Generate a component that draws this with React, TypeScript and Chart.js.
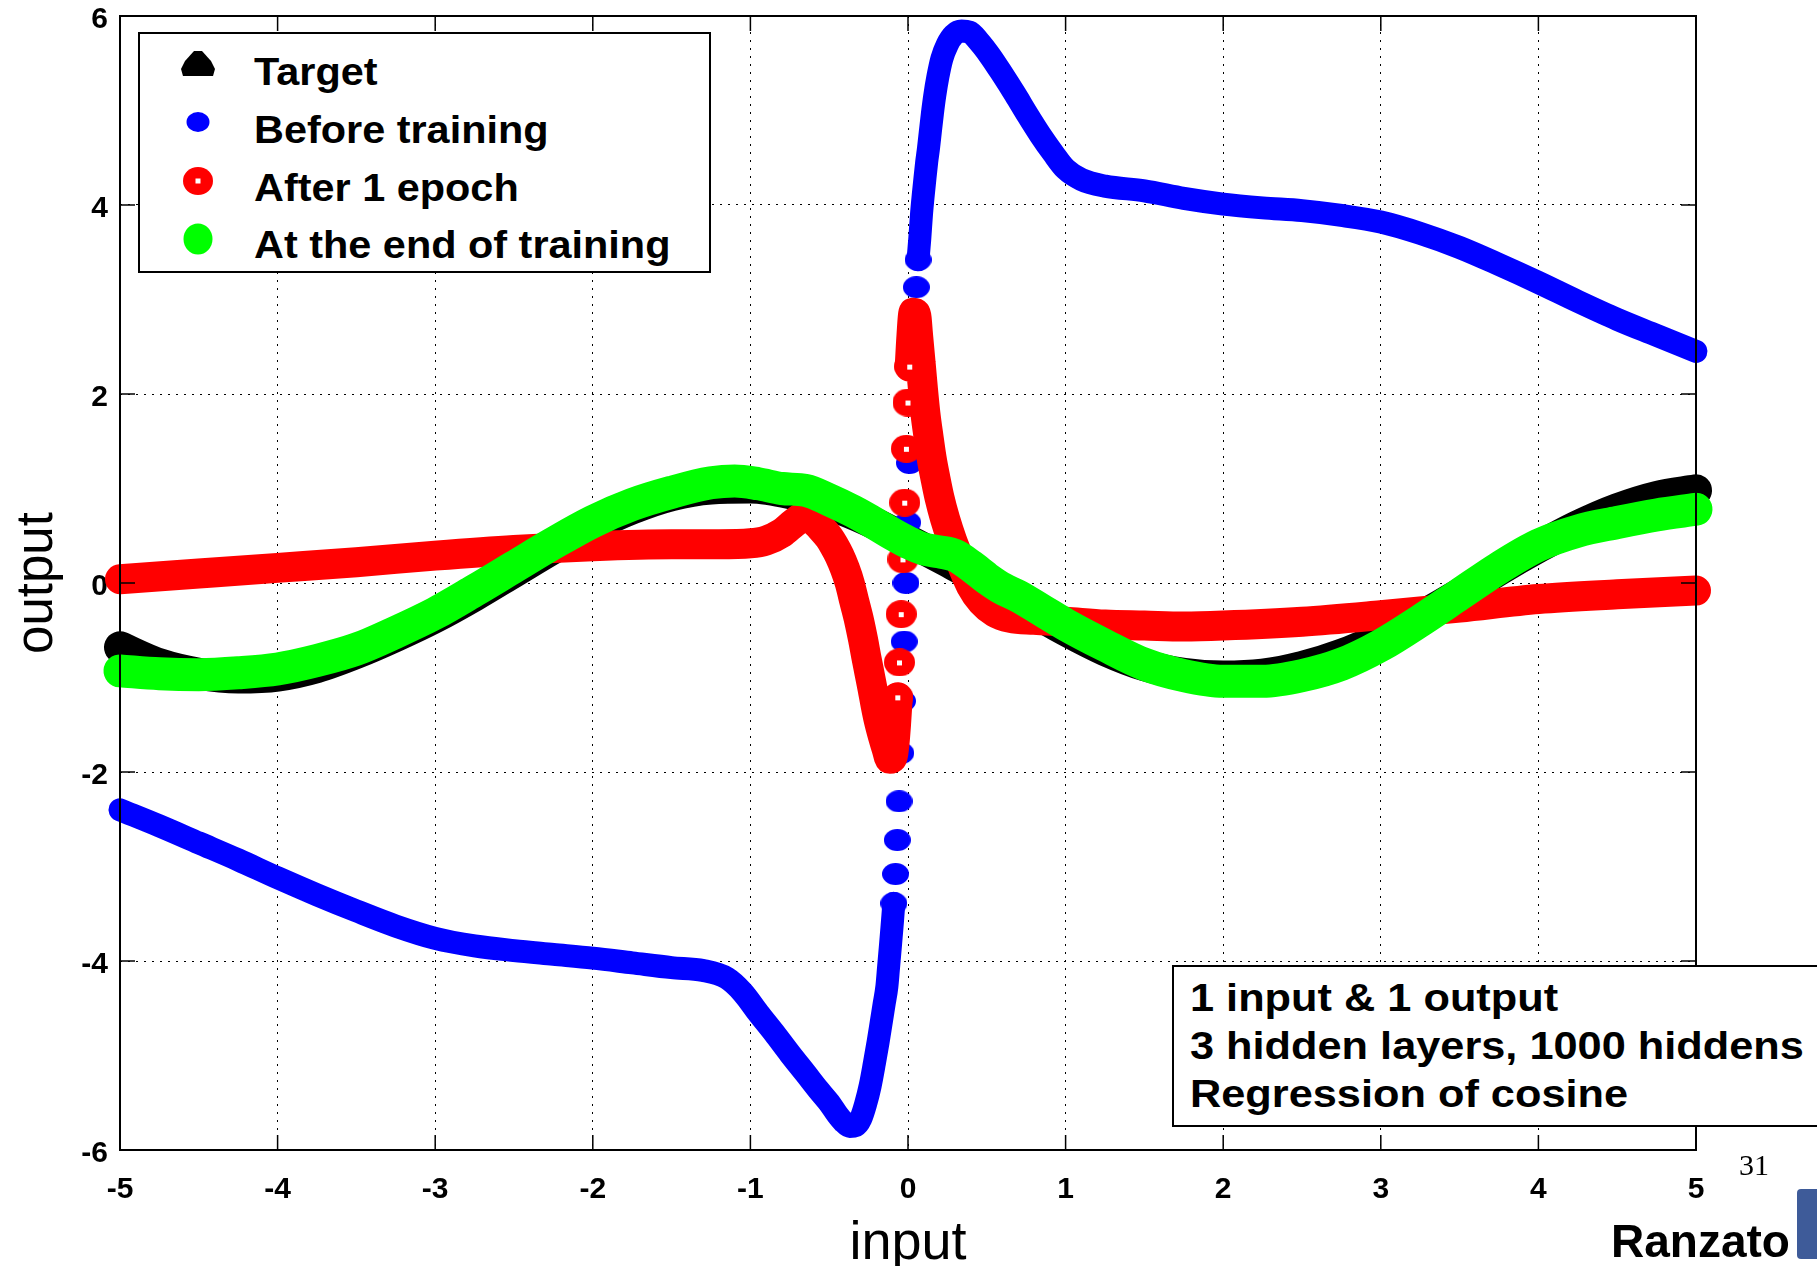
import React, { useEffect, useRef } from "react";
import { Chart, registerables } from "chart.js";

Chart.register(...registerables);

type Pt = [number, number];

const W = 1817;
const H = 1266;

const X_TICKS = [-5, -4, -3, -2, -1, 0, 1, 2, 3, 4, 5];
const Y_TICKS = [-6, -4, -2, 0, 2, 4, 6];

const SERIES_LABELS = ["Target", "Before training", "After 1 epoch", "At the end of training"];
const NOTE_LINES = ["1 input & 1 output", "3 hidden layers, 1000 hiddens", "Regression of cosine"];
const X_TITLE = "input";
const Y_TITLE = "output";
const CORNER_NAME = "Ranzato";
const PAGE_NUMBER = "31";

// Target (black)
const targetCurve: Pt[] = [
  [-5, -0.68], [-4.75, -0.86], [-4.5, -0.96], [-4.25, -1.0], [-4, -0.98], [-3.75, -0.89],
  [-3.5, -0.74], [-3.25, -0.56], [-3, -0.36], [-2.75, -0.13], [-2.5, 0.12], [-2.25, 0.37],
  [-2, 0.6], [-1.75, 0.79], [-1.5, 0.93], [-1.25, 1.0], [-1, 1.01], [-0.75, 0.95],
  [-0.5, 0.83], [-0.25, 0.66], [0, 0.45], [0.25, 0.23], [0.5, 0.0], [0.75, -0.26],
  [1, -0.5], [1.25, -0.71], [1.5, -0.87], [1.75, -0.96], [2, -0.99], [2.25, -0.97],
  [2.5, -0.89], [2.75, -0.76], [3, -0.58], [3.25, -0.36], [3.5, -0.12], [3.75, 0.14],
  [4, 0.38], [4.25, 0.6], [4.5, 0.78], [4.75, 0.91], [5, 0.98],
];

// Before training (blue)
const beforeTraining: Pt[] = [
  [-5, -2.4], [-4.75, -2.57], [-4.5, -2.75], [-4.25, -2.93], [-4, -3.12], [-3.75, -3.3],
  [-3.5, -3.47], [-3.25, -3.63], [-3, -3.76], [-2.75, -3.84], [-2.5, -3.89], [-2.25, -3.93],
  [-2, -3.97], [-1.75, -4.02], [-1.5, -4.07], [-1.3, -4.1], [-1.15, -4.18], [-1.05, -4.33],
  [-0.95, -4.55], [-0.85, -4.76], [-0.75, -4.98], [-0.65, -5.19], [-0.57, -5.36], [-0.5, -5.5],
  [-0.45, -5.62], [-0.41, -5.7], [-0.37, -5.75], [-0.33, -5.74], [-0.3, -5.67], [-0.27, -5.52],
  [-0.24, -5.32], [-0.213, -5.08], [-0.19, -4.86], [-0.17, -4.65], [-0.152, -4.46], [-0.134, -4.27],
  [-0.123, -4.06], [-0.112, -3.85], [-0.101, -3.63], [-0.09, -3.39], [-0.079, -3.08], [-0.068, -2.72],
  [-0.057, -2.31], [-0.046, -1.8], [-0.035, -1.25], [-0.024, -0.62], [-0.013, 0.0], [-0.002, 0.64],
  [0.009, 1.27], [0.02, 1.9], [0.031, 2.45], [0.042, 2.85], [0.053, 3.13], [0.064, 3.42],
  [0.075, 3.65], [0.086, 3.91], [0.097, 4.11], [0.108, 4.29], [0.119, 4.46], [0.13, 4.6],
  [0.142, 4.78], [0.155, 4.97], [0.17, 5.16], [0.19, 5.36], [0.215, 5.55], [0.25, 5.7],
  [0.29, 5.8], [0.34, 5.84], [0.39, 5.83], [0.45, 5.73], [0.52, 5.58], [0.6, 5.38],
  [0.68, 5.17], [0.76, 4.95], [0.84, 4.74], [0.92, 4.55], [1, 4.38], [1.1, 4.27],
  [1.25, 4.2], [1.5, 4.15], [1.75, 4.07], [2, 4.01], [2.25, 3.97], [2.5, 3.94],
  [2.75, 3.89], [3, 3.82], [3.25, 3.7], [3.5, 3.55], [3.75, 3.37], [4, 3.18],
  [4.25, 2.98], [4.5, 2.79], [4.75, 2.62], [5, 2.45],
];

// After 1 epoch (red)
const afterOneEpoch: Pt[] = [
  [-5, 0.04], [-4.5, 0.1], [-4, 0.16], [-3.5, 0.22], [-3, 0.29], [-2.5, 0.35],
  [-2, 0.39], [-1.5, 0.41], [-1.2, 0.41], [-1, 0.42], [-0.9, 0.45], [-0.8, 0.53],
  [-0.72, 0.64], [-0.66, 0.7], [-0.6, 0.66], [-0.55, 0.58], [-0.5, 0.48], [-0.47, 0.4],
  [-0.435, 0.29], [-0.4, 0.15], [-0.37, 0.0], [-0.34, -0.2], [-0.31, -0.4], [-0.285, -0.6],
  [-0.265, -0.78], [-0.245, -0.95], [-0.225, -1.12], [-0.205, -1.3], [-0.185, -1.46], [-0.16, -1.62],
  [-0.135, -1.76], [-0.115, -1.86], [-0.1, -1.85], [-0.087, -1.72], [-0.076, -1.5], [-0.065, -1.21],
  [-0.054, -0.84], [-0.043, -0.33], [-0.032, 0.25], [-0.021, 0.85], [-0.01, 1.42], [0.0, 1.91],
  [0.011, 2.29], [0.022, 2.62], [0.035, 2.86], [0.05, 2.85], [0.065, 2.6], [0.08, 2.33],
  [0.095, 2.05], [0.11, 1.8], [0.13, 1.55], [0.15, 1.32], [0.175, 1.1], [0.2, 0.9],
  [0.235, 0.68], [0.28, 0.45], [0.34, 0.2], [0.4, -0.03], [0.47, -0.2], [0.55, -0.31],
  [0.65, -0.37], [0.8, -0.39], [1, -0.41], [1.25, -0.44], [1.5, -0.45], [1.75, -0.46],
  [2, -0.45], [2.5, -0.41], [3, -0.34], [3.5, -0.26], [4, -0.17], [4.5, -0.12], [5, -0.08],
];

// At the end of training (green)
const endOfTraining: Pt[] = [
  [-5, -0.93], [-4.75, -0.96], [-4.5, -0.97], [-4.25, -0.95], [-4, -0.91], [-3.75, -0.82],
  [-3.5, -0.7], [-3.25, -0.52], [-3, -0.32], [-2.75, -0.08], [-2.5, 0.17], [-2.25, 0.42],
  [-2, 0.65], [-1.75, 0.83], [-1.5, 0.96], [-1.25, 1.06], [-1.1, 1.08], [-0.95, 1.05],
  [-0.8, 1.0], [-0.65, 0.98], [-0.5, 0.88], [-0.35, 0.76], [-0.2, 0.62], [-0.1, 0.52],
  [0, 0.43], [0.1, 0.36], [0.2, 0.33], [0.3, 0.29], [0.4, 0.18], [0.5, 0.05],
  [0.6, -0.06], [0.7, -0.14], [0.85, -0.29], [1, -0.44], [1.25, -0.66], [1.5, -0.86],
  [1.75, -0.98], [2, -1.04], [2.25, -1.04], [2.5, -0.98], [2.75, -0.86], [3, -0.66],
  [3.25, -0.4], [3.5, -0.12], [3.75, 0.16], [4, 0.4], [4.25, 0.55], [4.5, 0.64],
  [4.75, 0.72], [5, 0.78],
];

const COLORS = { target: "#000000", before: "#0000ff", after: "#ff0000", end: "#00ff00" };

const SANS = '"Liberation Sans", Arial, Helvetica, sans-serif';
const SERIF = '"Liberation Serif", "Times New Roman", serif';

function steep(p0: any, p1: any, limit: number) {
  const dx = Math.abs(p1.x - p0.x);
  const dy = Math.abs(p1.y - p0.y);
  return dy > limit && dy > 3 * dx;
}

function isIsolated(ctx: any, limit: number) {
  if (!ctx || ctx.type !== "data" || ctx.dataIndex == null) return false;
  const data = ctx.dataset.data as { x: number; y: number }[];
  const sx = ctx.chart.scales.x;
  const sy = ctx.chart.scales.y;
  if (!sx || !sy) return false;
  const pix = (k: number) => ({ x: sx.getPixelForValue(data[k].x), y: sy.getPixelForValue(data[k].y) });
  const i = ctx.dataIndex;
  const p = pix(i);
  return (i > 0 && steep(pix(i - 1), p, limit)) || (i < data.length - 1 && steep(p, pix(i + 1), limit));
}

function makeMarker(w: number, h: number, fill: string, hole: number) {
  const c = document.createElement("canvas");
  c.width = w;
  c.height = h;
  const g = c.getContext("2d")!;
  g.fillStyle = fill;
  g.beginPath();
  g.ellipse(w / 2, h / 2, w / 2, h / 2, 0, 0, Math.PI * 2);
  g.fill();
  if (hole > 0) {
    g.fillStyle = "#ffffff";
    g.fillRect(Math.round(w / 2 - hole / 2), Math.round(h / 2 - hole / 2), hole, hole);
  }
  return c;
}

function series(label: string, pts: Pt[], color: string, width: number, limit: number, extra: any, order: number) {
  return {
    label,
    data: pts.map(([x, y]) => ({ x, y })),
    borderColor: color,
    backgroundColor: color,
    borderWidth: width,
    borderCapStyle: "round",
    borderJoinStyle: "round",
    cubicInterpolationMode: "monotone",
    fill: false,
    order,
    clip: 24,
    segment: {
      borderColor: (ctx: any) => (steep(ctx.p0, ctx.p1, limit) ? "rgba(0,0,0,0)" : color),
    },
    ...extra,
  };
}

const framePlugin = {
  id: "frame",
  afterDatasetsDraw(chart: any) {
    const { ctx, chartArea: a, scales } = chart;
    ctx.save();
    ctx.strokeStyle = "#000";
    ctx.lineWidth = 1.5;
    ctx.beginPath();
    for (const v of X_TICKS) {
      const px = scales.x.getPixelForValue(v);
      ctx.moveTo(px, a.bottom);
      ctx.lineTo(px, a.bottom - 15);
      ctx.moveTo(px, a.top);
      ctx.lineTo(px, a.top + 15);
    }
    for (const v of Y_TICKS) {
      const py = scales.y.getPixelForValue(v);
      ctx.moveTo(a.left, py);
      ctx.lineTo(a.left + 15, py);
      ctx.moveTo(a.right, py);
      ctx.lineTo(a.right - 15, py);
    }
    ctx.stroke();
    ctx.lineWidth = 2;
    ctx.strokeRect(a.left, a.top, a.right - a.left, a.bottom - a.top);
    ctx.restore();
  },
};

function Txt(props: { x: number; baseline: number; size: number; text: string; weight?: number; family?: string; sx?: number; asc?: number }) {
  const { x, baseline, size, text, weight = 700, family = SANS, sx = 1, asc = 0.8465 } = props;
  return (
    <div
      style={{
        position: "absolute",
        left: x,
        top: baseline - asc * size,
        fontFamily: family,
        fontSize: size,
        fontWeight: weight,
        lineHeight: `${size}px`,
        whiteSpace: "nowrap",
        transform: `scaleX(${sx})`,
        transformOrigin: "left top",
        color: "#000",
      }}
    >
      {text}
    </div>
  );
}

export default function App() {
  const ref = useRef<HTMLCanvasElement>(null);

  useEffect(() => {
    const canvas = ref.current;
    if (!canvas) return;
    const blueDot = makeMarker(27, 22, COLORS.before, 0);
    const redRing = makeMarker(31, 28, COLORS.after, 5);
    const tickFont = { family: SANS, size: 30, weight: "bold" as const, lineHeight: 1 };
    const chart = new Chart(canvas, {
      type: "line",
      data: {
        datasets: [
          series(SERIES_LABELS[0], targetCurve, COLORS.target, 32, Infinity, {
            pointStyle: "triangle",
            pointRadius: (ctx: any) => (ctx.dataIndex === 0 || ctx.dataIndex === targetCurve.length - 1 ? 16 : 0),
            pointBackgroundColor: COLORS.target,
            pointBorderWidth: 0,
          }, 3),
          series(SERIES_LABELS[1], beforeTraining, COLORS.before, 23, 25, {
            pointStyle: blueDot,
            pointRadius: (ctx: any) => (isIsolated(ctx, 25) ? 10 : 0),
            pointBorderWidth: 0,
          }, 2),
          series(SERIES_LABELS[2], afterOneEpoch, COLORS.after, 30, 32, {
            pointStyle: redRing,
            pointRadius: (ctx: any) => (isIsolated(ctx, 32) ? 10 : 0),
            pointBorderWidth: 0,
          }, 1),
          series(SERIES_LABELS[3], endOfTraining, COLORS.end, 33, Infinity, {
            pointRadius: 0,
          }, 0),
        ] as any,
      },
      options: {
        responsive: false,
        animation: false,
        events: [],
        layout: { padding: { left: 0, right: 121, top: 16, bottom: 0 } },
        plugins: { legend: { display: false }, tooltip: { enabled: false } },
        scales: {
          x: {
            type: "linear",
            min: -5,
            max: 5,
            afterBuildTicks: (s: any) => {
              s.ticks = X_TICKS.map((v) => ({ value: v }));
            },
            afterFit: (s: any) => {
              s.height = 116;
              s.paddingLeft = 0;
              s.paddingRight = 0;
            },
            ticks: { color: "#000", font: tickFont, padding: 25, maxRotation: 0, autoSkip: false },
            grid: { color: "#000", lineWidth: 1, drawTicks: false },
            border: { display: false, dash: [2, 6] },
            title: {
              display: true,
              text: X_TITLE,
              color: "#000",
              font: { family: SANS, size: 54, lineHeight: 0.8 },
              padding: { top: 0, bottom: 0 },
            },
          },
          y: {
            type: "linear",
            min: -6,
            max: 6,
            afterBuildTicks: (s: any) => {
              s.ticks = Y_TICKS.map((v) => ({ value: v }));
            },
            afterFit: (s: any) => {
              s.width = 120;
              s.paddingTop = 0;
              s.paddingBottom = 0;
            },
            ticks: { color: "#000", font: tickFont, padding: 12, labelOffset: 4, autoSkip: false },
            grid: { color: "#000", lineWidth: 1, drawTicks: false },
            border: { display: false, dash: [2, 6] },
            title: {
              display: true,
              text: Y_TITLE,
              color: "#000",
              font: { family: SANS, size: 51, lineHeight: 0.8 },
              padding: { top: 18, bottom: 0 },
            },
          },
        },
      } as any,
      plugins: [framePlugin],
    });
    return () => chart.destroy();
  }, []);

  const legendBaselines = [85, 143, 201.5, 258.5];
  const noteBaselines = [1011.5, 1060, 1108];

  return (
    <div style={{ position: "relative", width: W, height: H, overflow: "hidden", background: "#fff" }}>
      <style>{`html,body{margin:0;padding:0;overflow:hidden;background:#fff}`}</style>
      <canvas ref={ref} width={W} height={H} style={{ display: "block", width: W, height: H }} />

      {/* Legend */}
      <div
        style={{
          position: "absolute",
          left: 138,
          top: 32,
          width: 573,
          height: 241,
          border: "2px solid #000",
          boxSizing: "border-box",
          background: "#fff",
        }}
      />
      <svg style={{ position: "absolute", left: 138, top: 32 }} width={573} height={241}>
        <polygon points="56,19 64,19 73,29 77,37 75,44 45,44 43,37 47,29" fill={COLORS.target} />
        <ellipse cx={60} cy={90} rx={11.5} ry={10} fill={COLORS.before} />
        <ellipse cx={60} cy={149} rx={15} ry={14} fill={COLORS.after} />
        <rect x={57.5} y={146.5} width={5} height={5} fill="#fff" />
        <ellipse cx={60} cy={207} rx={14.5} ry={15.5} fill={COLORS.end} />
      </svg>
      {SERIES_LABELS.map((t, i) => (
        <Txt key={t} x={253.5} baseline={legendBaselines[i]} size={38} text={t} sx={1.09} />
      ))}

      {/* Annotation box */}
      <div
        style={{
          position: "absolute",
          left: 1172,
          top: 965,
          width: 700,
          height: 162,
          border: "2px solid #000",
          boxSizing: "border-box",
          background: "#fff",
        }}
      />
      {NOTE_LINES.map((t, i) => (
        <Txt key={t} x={1190} baseline={noteBaselines[i]} size={38.5} text={t} sx={1.125} />
      ))}

      {/* Slide decorations */}
      <Txt x={1739} baseline={1175} size={30} text={PAGE_NUMBER} weight={400} family={SERIF} asc={0.8375} />
      <Txt x={1611} baseline={1257} size={46} text={CORNER_NAME} />
      <div
        style={{
          position: "absolute",
          left: 1797,
          top: 1189,
          width: 40,
          height: 70,
          background: "#3e5b99",
          borderRadius: 4,
        }}
      />
    </div>
  );
}
